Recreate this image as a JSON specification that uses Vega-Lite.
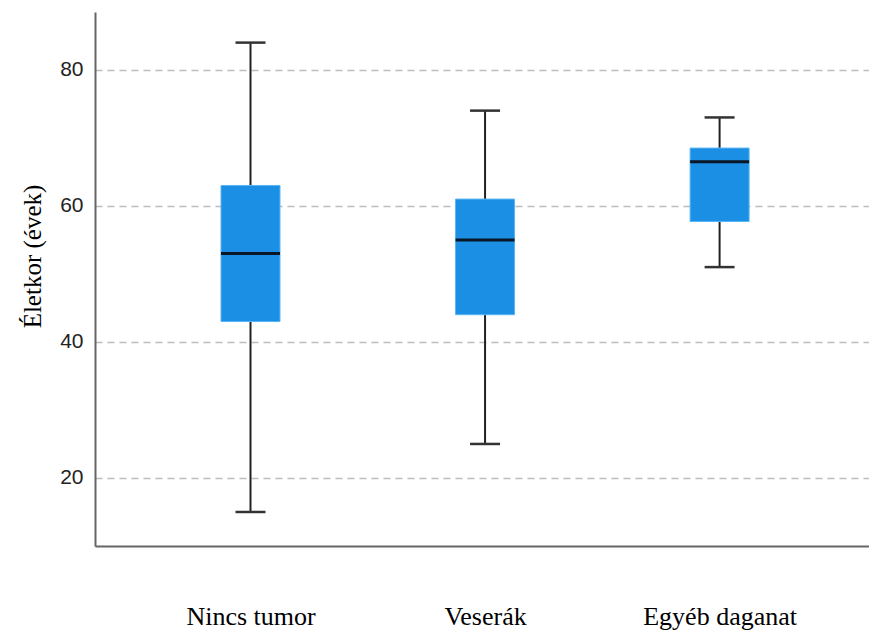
{
  "$schema": "https://vega.github.io/schema/vega-lite/v6.json",
  "width": 774,
  "height": 534,
  "autosize": {"type": "none"},
  "padding": {"left": 95, "top": 12, "right": 0, "bottom": 87},
  "background": "white",
  "config": {"view": {"stroke": null}},
  "data": {
    "values": [
      {"group": "Nincs tumor", "lower": 15, "q1": 43, "median": 53, "q3": 63, "upper": 84},
      {"group": "Veserák", "lower": 25, "q1": 44, "median": 55, "q3": 61, "upper": 74},
      {"group": "Egyéb daganat", "lower": 51, "q1": 57.7, "median": 66.5, "q3": 68.5, "upper": 73}
    ]
  },
  "encoding": {
    "x": {
      "field": "group",
      "type": "nominal",
      "sort": ["Nincs tumor", "Veserák", "Egyéb daganat"],
      "scale": {"type": "point", "padding": 0.65, "align": 0.51},
      "axis": {
        "title": null,
        "ticks": false,
        "grid": false,
        "labelAngle": 0,
        "labelFont": "Liberation Serif",
        "labelFontSize": 26,
        "labelColor": "#000000",
        "labelPadding": 57,
        "domainColor": "#666666",
        "domainWidth": 2
      }
    }
  },
  "layer": [
    {
      "mark": {"type": "rule", "color": "#222222", "strokeWidth": 2},
      "encoding": {
        "y": {
          "field": "lower",
          "type": "quantitative",
          "scale": {"domain": [10, 88.5], "nice": false, "zero": false},
          "axis": {
            "values": [20, 40, 60, 80],
            "title": "Életkor (évek)",
            "titleFont": "Liberation Serif",
            "titleFontSize": 25,
            "titleFontWeight": "normal",
            "titleColor": "#000000",
            "titlePadding": 14,
            "titleY": 244,
            "ticks": false,
            "labelFont": "Liberation Sans",
            "labelFontSize": 21,
            "labelColor": "#222222",
            "labelPadding": 12,
            "grid": true,
            "gridDash": [7, 5],
            "gridColor": "#bdbdbd",
            "gridWidth": 1.5,
            "domainColor": "#666666",
            "domainWidth": 2
          }
        },
        "y2": {"field": "upper"}
      }
    },
    {
      "mark": {"type": "tick", "color": "#333333", "size": 30, "thickness": 2.5, "opacity": 1},
      "encoding": {"y": {"field": "upper", "type": "quantitative"}}
    },
    {
      "mark": {"type": "tick", "color": "#333333", "size": 30, "thickness": 2.5, "opacity": 1},
      "encoding": {"y": {"field": "lower", "type": "quantitative"}}
    },
    {
      "mark": {"type": "bar", "size": 59, "color": "#1a8fe3", "stroke": "#5ab5f5", "strokeWidth": 1},
      "encoding": {
        "y": {"field": "q1", "type": "quantitative"},
        "y2": {"field": "q3"}
      }
    },
    {
      "mark": {"type": "tick", "color": "#0b1726", "size": 59, "thickness": 3, "opacity": 1},
      "encoding": {"y": {"field": "median", "type": "quantitative"}}
    }
  ]
}
